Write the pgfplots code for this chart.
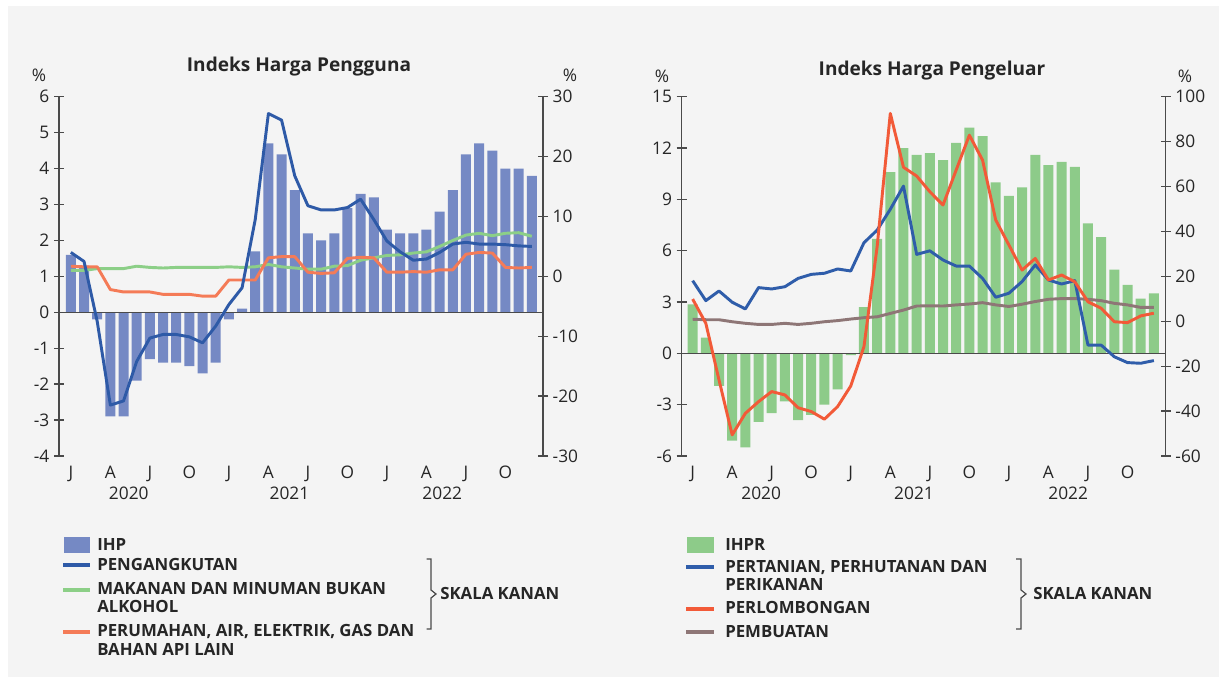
\documentclass[border=0pt]{standalone}
\usepackage{fontspec}
\usepackage{pgfplots}
\pgfplotsset{compat=1.18}
\IfFontExistsTF{Noto Sans Bold}{\setmainfont{Noto Sans}[BoldFont={Noto Sans Bold}]}{\setmainfont{Open Sans}}
\IfFontExistsTF{Noto Sans SemiBold}{\newfontfamily\semib{Noto Sans SemiBold}}{%
  \IfFontExistsTF{Open Sans SemiBold}{\newfontfamily\semib{Open Sans SemiBold}}{\newcommand\semib{\bfseries}}}
\definecolor{ihpbar}{HTML}{7589C4}
\definecolor{trans}{HTML}{2E5AA7}
\definecolor{food}{HTML}{8CCF87}
\definecolor{house}{HTML}{F47B57}
\definecolor{ihprbar}{HTML}{8DCB89}
\definecolor{agri}{HTML}{2F5DAA}
\definecolor{mining}{HTML}{F25A38}
\definecolor{manuf}{HTML}{8E7676}
\definecolor{panel}{HTML}{F4F4F4}
\definecolor{axcol}{HTML}{4A4A4A}
\definecolor{txt}{HTML}{262626}
\newcommand\tickfont{\fontsize{13pt}{15pt}\selectfont}
\newcommand\legfont{\fontsize{12.6pt}{14pt}\selectfont\semib}
\pgfplotsset{
  base/.style={scale only axis, width=363pt, height=269.4pt,
    axis line style={draw=axcol, line width=1pt, -},
    tick style={draw=axcol, line width=1pt},
    tick align=center, major tick length=7.5pt,
    ticklabel style={font=\tickfont, text=txt},
    clip=false},
  leftax/.style={base, axis y line*=left, axis x line*=bottom,
    x axis line style={draw=none},
    xtick={0,3,...,33}, xticklabels={J,A,J,O,J,A,J,O,J,A,J,O},
    major x tick style={draw=none},
    extra x tick style={major tick length=0pt, tick style={draw=none}, tick label style={yshift=-19.5pt}},
    extra x tick labels={2020,2021,2022}},
  rightax/.style={base, axis y line*=right, axis x line=none},
  bars/.style={ybar, bar width=7.5pt, bar shift=0pt, draw=none},
  ln/.style={line width=2.2pt, line join=round, mark=none}
}
\begin{document}
\begin{tikzpicture}[x=0.75pt,y=0.75pt]
\useasboundingbox (0,0) rectangle (1226,680);
\fill[white] (0,0) rectangle (1226,680);
\fill[panel] (8,3) rectangle (1219,674);

% ---------------- LEFT CHART ----------------
\begin{axis}[leftax, at={(44.25pt,168pt)}, anchor=south west,
  xmin=-0.9, xmax=35.85, ymin=-4, ymax=6,
  ytick={-4,-3,...,6}, yticklabels={-4,-3,-2,-1,0,1,2,3,4,5,6},
  extra x ticks={4.4,16.6,28.2}]
\addplot[bars, fill=ihpbar] table[row sep=\\] {
x y\\ 0 1.6\\ 1 1.3\\ 2 -0.2\\ 3 -2.9\\ 4 -2.9\\ 5 -1.9\\ 6 -1.3\\ 7 -1.4\\ 8 -1.4\\ 9 -1.5\\ 10 -1.7\\ 11 -1.4\\
12 -0.2\\ 13 0.1\\ 14 1.7\\ 15 4.7\\ 16 4.4\\ 17 3.4\\ 18 2.2\\ 19 2.0\\ 20 2.2\\ 21 2.9\\ 22 3.3\\ 23 3.2\\
24 2.3\\ 25 2.2\\ 26 2.2\\ 27 2.3\\ 28 2.8\\ 29 3.4\\ 30 4.4\\ 31 4.7\\ 32 4.5\\ 33 4.0\\ 34 4.0\\ 35 3.8\\
};
\draw[axcol, line width=1pt] (axis cs:-0.9,0) -- (axis cs:35.85,0);
\end{axis}
\begin{axis}[rightax, at={(44.25pt,168pt)}, anchor=south west,
  xmin=-0.9, xmax=35.85, ymin=-30, ymax=30,
  ytick={-30,-20,...,30}, yticklabels={-30,-20,-10,0,10,20,30}]
\addplot[ln, food] table[row sep=\\] {
x y\\ 0 1.0\\ 1 1.0\\ 2 1.3\\ 3 1.3\\ 4 1.3\\ 5 1.7\\ 6 1.5\\ 7 1.4\\ 8 1.5\\ 9 1.5\\ 10 1.5\\ 11 1.5\\
12 1.6\\ 13 1.5\\ 14 1.6\\ 15 2.0\\ 16 1.6\\ 17 1.4\\ 18 1.2\\ 19 1.2\\ 20 1.7\\ 21 1.8\\ 22 2.7\\ 23 3.1\\
24 3.5\\ 25 3.6\\ 26 3.9\\ 27 4.1\\ 28 5.0\\ 29 6.0\\ 30 6.9\\ 31 7.2\\ 32 6.8\\ 33 7.2\\ 34 7.3\\ 35 6.7\\
};
\addplot[ln, house] table[row sep=\\] {
x y\\ 0 1.7\\ 1 1.6\\ 2 1.6\\ 3 -2.2\\ 4 -2.6\\ 5 -2.6\\ 6 -2.6\\ 7 -3.0\\ 8 -3.0\\ 9 -3.0\\ 10 -3.3\\ 11 -3.3\\
12 -0.6\\ 13 -0.6\\ 14 -0.6\\ 15 3.1\\ 16 3.3\\ 17 3.3\\ 18 0.7\\ 19 0.5\\ 20 0.6\\ 21 3.0\\ 22 3.2\\ 23 3.1\\
24 0.7\\ 25 0.7\\ 26 0.8\\ 27 0.7\\ 28 1.1\\ 29 1.1\\ 30 3.7\\ 31 4.0\\ 32 3.9\\ 33 1.5\\ 34 1.4\\ 35 1.5\\
};
\addplot[ln, trans] table[row sep=\\] {
x y\\ 0 4.0\\ 1 2.5\\ 2 -7.5\\ 3 -21.5\\ 4 -20.8\\ 5 -14.2\\ 6 -10.3\\ 7 -9.7\\ 8 -9.7\\ 9 -10.1\\ 10 -11.1\\ 11 -8.3\\
12 -4.7\\ 13 -1.9\\ 14 9.5\\ 15 27.2\\ 16 26.1\\ 17 16.8\\ 18 11.8\\ 19 11.1\\ 20 11.1\\ 21 11.5\\ 22 12.9\\ 23 9.5\\
24 5.9\\ 25 4.1\\ 26 2.7\\ 27 2.9\\ 28 4.0\\ 29 5.4\\ 30 5.7\\ 31 5.4\\ 32 5.4\\ 33 5.3\\ 34 5.1\\ 35 5.0\\
};
\end{axis}

% ---------------- RIGHT CHART ----------------
\begin{axis}[leftax, at={(511.275pt,168pt)}, anchor=south west,
  xmin=-0.83, xmax=35.9, ymin=-6, ymax=15,
  ytick={-6,-3,...,15}, yticklabels={-6,-3,0,3,6,9,12,15},
  extra x ticks={5.2,16.8,28.5}]
\addplot[bars, fill=ihprbar] table[row sep=\\] {
x y\\ 0 2.87\\ 1 0.92\\ 2 -1.9\\ 3 -5.1\\ 4 -5.5\\ 5 -4.0\\ 6 -3.5\\ 7 -2.8\\ 8 -3.9\\ 9 -3.6\\ 10 -3.0\\ 11 -2.1\\
12 -0.1\\ 13 2.7\\ 14 6.7\\ 15 10.6\\ 16 12.0\\ 17 11.6\\ 18 11.7\\ 19 11.3\\ 20 12.3\\ 21 13.2\\ 22 12.7\\ 23 10.0\\
24 9.2\\ 25 9.7\\ 26 11.6\\ 27 11.0\\ 28 11.2\\ 29 10.9\\ 30 7.6\\ 31 6.8\\ 32 4.9\\ 33 4.0\\ 34 3.2\\ 35 3.5\\
};
\draw[axcol, line width=1pt] (axis cs:-0.83,0) -- (axis cs:35.9,0);
\end{axis}
\begin{axis}[rightax, at={(511.275pt,168pt)}, anchor=south west,
  xmin=-0.83, xmax=35.9, ymin=-60, ymax=100,
  ytick={-60,-40,...,100}, yticklabels={-60,-40,-20,0,20,40,60,80,100}]
\addplot[ln, manuf] table[row sep=\\] {
x y\\ 0 0.9\\ 1 0.7\\ 2 0.7\\ 3 -0.2\\ 4 -0.9\\ 5 -1.4\\ 6 -1.4\\ 7 -0.9\\ 8 -1.4\\ 9 -0.9\\ 10 -0.2\\ 11 0.3\\
12 1.0\\ 13 1.6\\ 14 2.0\\ 15 3.5\\ 16 5.0\\ 17 6.8\\ 18 6.9\\ 19 6.8\\ 20 7.3\\ 21 7.7\\ 22 8.3\\ 23 7.3\\
24 6.6\\ 25 7.6\\ 26 8.8\\ 27 9.8\\ 28 10.1\\ 29 10.1\\ 30 9.8\\ 31 9.2\\ 32 8.0\\ 33 7.3\\ 34 6.2\\ 35 6.2\\
};
\addplot[ln, agri] table[row sep=\\] {
x y\\ 0 18.1\\ 1 9.2\\ 2 13.5\\ 3 8.5\\ 4 5.5\\ 5 15.0\\ 6 14.4\\ 7 15.4\\ 8 19.1\\ 9 20.9\\ 10 21.4\\ 11 23.3\\
12 22.4\\ 13 35.0\\ 14 40.6\\ 15 49.9\\ 16 60.2\\ 17 29.8\\ 18 31.4\\ 19 27.3\\ 20 24.6\\ 21 24.6\\ 22 19.1\\ 23 10.7\\
24 12.5\\ 25 17.7\\ 26 25.1\\ 27 18.4\\ 28 16.6\\ 29 18.1\\ 30 -10.6\\ 31 -10.6\\ 32 -15.8\\ 33 -18.4\\ 34 -18.7\\ 35 -17.5\\
};
\addplot[ln, mining] table[row sep=\\] {
x y\\ 0 9.9\\ 1 -0.9\\ 2 -26.1\\ 3 -50.6\\ 4 -41.0\\ 5 -35.8\\ 6 -31.3\\ 7 -32.8\\ 8 -38.5\\ 9 -40.2\\ 10 -43.6\\ 11 -38.0\\
12 -28.8\\ 13 -11.3\\ 14 33.2\\ 15 92.6\\ 16 68.6\\ 17 64.7\\ 18 57.7\\ 19 51.8\\ 20 67.4\\ 21 82.9\\ 22 71.8\\ 23 45.1\\
24 34.0\\ 25 22.8\\ 26 28.0\\ 27 18.4\\ 28 20.6\\ 29 17.6\\ 30 8.7\\ 31 5.8\\ 32 -0.2\\ 33 -0.6\\ 34 2.4\\ 35 3.6\\
};
\end{axis}

% ---------------- titles and units ----------------
\node[font=\fontsize{14.3pt}{16pt}\selectfont\bfseries, text=txt] at (299,613) {Indeks Harga Pengguna};
\node[font=\fontsize{14.3pt}{16pt}\selectfont\bfseries, text=txt] at (932,609) {Indeks Harga Pengeluar};
\node[font=\tickfont, text=txt] at (39,605) {\%};
\node[font=\tickfont, text=txt] at (570,605) {\%};
\node[font=\tickfont, text=txt] at (662,604) {\%};
\node[font=\tickfont, text=txt] at (1185,604) {\%};

% ---------------- legends ----------------
\begin{scope}[every node/.style={font=\legfont, text=txt, anchor=base west, inner sep=0pt}]
% left
\fill[ihpbar] (64,127) rectangle (90,143);
\node at (97,129) {IHP};
\draw[trans, line width=2.4pt] (63,115) -- (90,115);
\node at (97,109) {PENGANGKUTAN};
\draw[food, line width=2.4pt] (63,90) -- (90,90);
\node at (97,85) {MAKANAN DAN MINUMAN BUKAN};
\node at (97,67) {ALKOHOL};
\draw[house, line width=2.4pt] (63,48) -- (90,48);
\node at (97,43) {PERUMAHAN, AIR, ELEKTRIK, GAS DAN};
\node at (97,24) {BAHAN API LAIN};
\draw[axcol, line width=0.9pt] (426.5,121) -- (431,121) -- (431,90) -- (436,86) -- (431,82) -- (431,51) -- (426.5,51);
\node at (440,80) {SKALA KANAN};
% right
\fill[ihprbar] (687,127) rectangle (714,143);
\node at (725,129) {IHPR};
\draw[agri, line width=2.4pt] (686,113) -- (714,113);
\node at (725,107) {PERTANIAN, PERHUTANAN DAN};
\node at (725,89) {PERIKANAN};
\draw[mining, line width=2.4pt] (686,71) -- (714,71);
\node at (725,66) {PERLOMBONGAN};
\draw[manuf, line width=2.4pt] (686,48) -- (714,48);
\node at (725,42) {PEMBUATAN};
\draw[axcol, line width=0.9pt] (1016,121) -- (1021,121) -- (1021,90) -- (1026,86) -- (1021,82) -- (1021,51) -- (1016,51);
\node at (1033,80) {SKALA KANAN};
\end{scope}
\end{tikzpicture}
\end{document}
